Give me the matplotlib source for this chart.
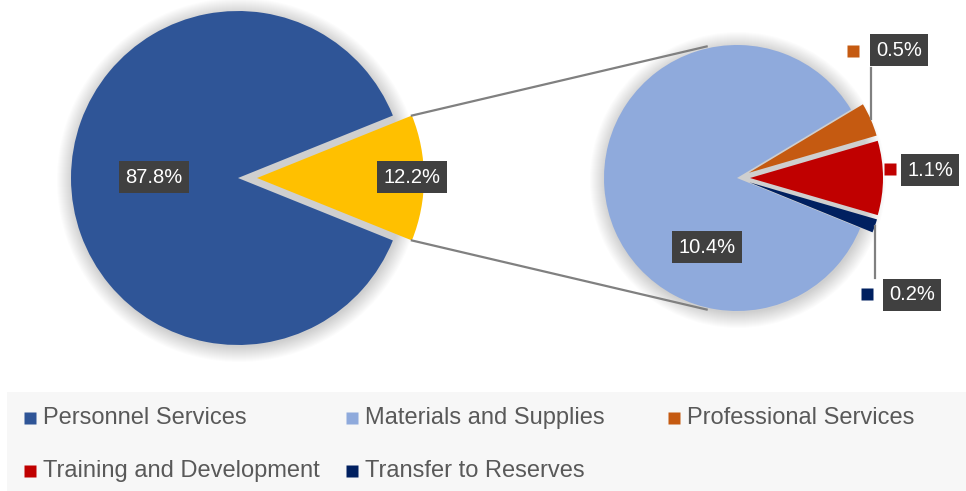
""" Pie of pie: budget breakdown """

import numpy as np
import matplotlib.pyplot as plt
from matplotlib.patches import Circle, Rectangle

plt.rcParams['font.family'] = ['Liberation Sans', 'DejaVu Sans']

W, H = 966, 491

# Data
main_labels = ['Personnel Services', 'Other']
main_values = [87.8, 12.2]
main_colors = ['#2F5597', '#FFC000']

sub_labels = ['Professional Services', 'Training and Development',
              'Transfer to Reserves', 'Materials and Supplies']
sub_values = [0.5, 1.1, 0.2, 10.4]
sub_colors = ['#C55A11', '#C00000', '#002060', '#8FAADC']

legend_labels = ['Personnel Services', 'Materials and Supplies', 'Professional Services',
                 'Training and Development', 'Transfer to Reserves']
legend_colors = ['#2F5597', '#8FAADC', '#C55A11', '#C00000', '#002060']


def fy(y):
    """ image row -> axes y """
    return H - y


def shadow(ax, c, r, n=16):
    """ soft grey halo behind a pie """
    for i in range(n):
        ax.add_patch(Circle((c[0] + 1, c[1] - 2), r + i, fc='black', alpha=0.012,
                            lw=0, zorder=0))


def label(ax, x, y, s):
    ax.text(x, fy(y), s, color='white', fontsize=14.5, ha='center', va='center',
            zorder=6, bbox=dict(boxstyle='square,pad=0.32', fc='#404040', ec='none'))


fig = plt.figure(figsize=(W / 100, H / 100), dpi=100)
ax = fig.add_axes([0, 0, 1, 1])

# Main pie (explode is in pixels here since axes units are pixels)
c1, r1 = (238, fy(178)), 167
shadow(ax, c1, r1)
half = 360 * main_values[1] / sum(main_values) / 2
w1, _ = ax.pie(main_values, colors=main_colors, center=c1, radius=r1,
               startangle=half, counterclock=True, explode=[0, 19],
               wedgeprops=dict(ec='none', lw=0))

# Secondary pie
c2, r2 = (737, fy(178)), 133
shadow(ax, c2, r2)
w2, _ = ax.pie(sub_values, colors=sub_colors, center=c2, radius=r2,
               startangle=31, counterclock=False, explode=[13, 13, 13, 0],
               wedgeprops=dict(ec='none', lw=0))

# Connector lines
g = w1[1]
for th, th2 in [(g.theta2, 103), (g.theta1, -103)]:
    p0 = (g.center[0] + g.r * np.cos(np.radians(th)), g.center[1] + g.r * np.sin(np.radians(th)))
    p1 = (c2[0] + (r2 + 2) * np.cos(np.radians(th2)), c2[1] + (r2 + 2) * np.sin(np.radians(th2)))
    ax.plot([p0[0], p1[0]], [p0[1], p1[1]], color='#808080', lw=1.6, zorder=3)

# Leader lines for the thin slices
for w, y_box in [(w2[0], 68), (w2[2], 278)]:
    mid = np.radians((w.theta1 + w.theta2) / 2)
    px = w.center[0] + w.r * np.cos(mid)
    py = w.center[1] + w.r * np.sin(mid)
    ax.plot([px, px], [py, fy(y_box)], color='#808080', lw=1.6, zorder=3)

# Data labels
label(ax, 154, 177, f'{main_values[0]}%')
label(ax, 412, 177, f'{main_values[1]}%')
label(ax, 707, 247, f'{sub_values[3]}%')
label(ax, 899, 50, f'{sub_values[0]}%')
label(ax, 930, 170, f'{sub_values[1]}%')
label(ax, 912, 295, f'{sub_values[2]}%')
for (x, y), col in zip([(853, 51), (890, 169), (867, 294)], sub_colors[:3]):
    ax.plot(x, fy(y), marker='s', ms=8.5, color=col, mec='none', zorder=6)

# Legend
ax.add_patch(Rectangle((7, 0), W - 7, fy(392), fc='#F7F7F7', ec='none', zorder=1))
leg_x = [30, 352, 674, 30, 352]
leg_y = [418, 418, 418, 471, 471]
for name, col, x, y in zip(legend_labels, legend_colors, leg_x, leg_y):
    ax.plot(x, fy(y), marker='s', ms=8, color=col, mec='none', zorder=2)
    ax.text(x + 13, fy(y), name, color='#595959', fontsize=17, ha='left',
            va='center', zorder=2)

ax.set_xlim(0, W)
ax.set_ylim(0, H)
ax.set_aspect('equal')
ax.axis('off')

fig.savefig('out.png', dpi=100)
